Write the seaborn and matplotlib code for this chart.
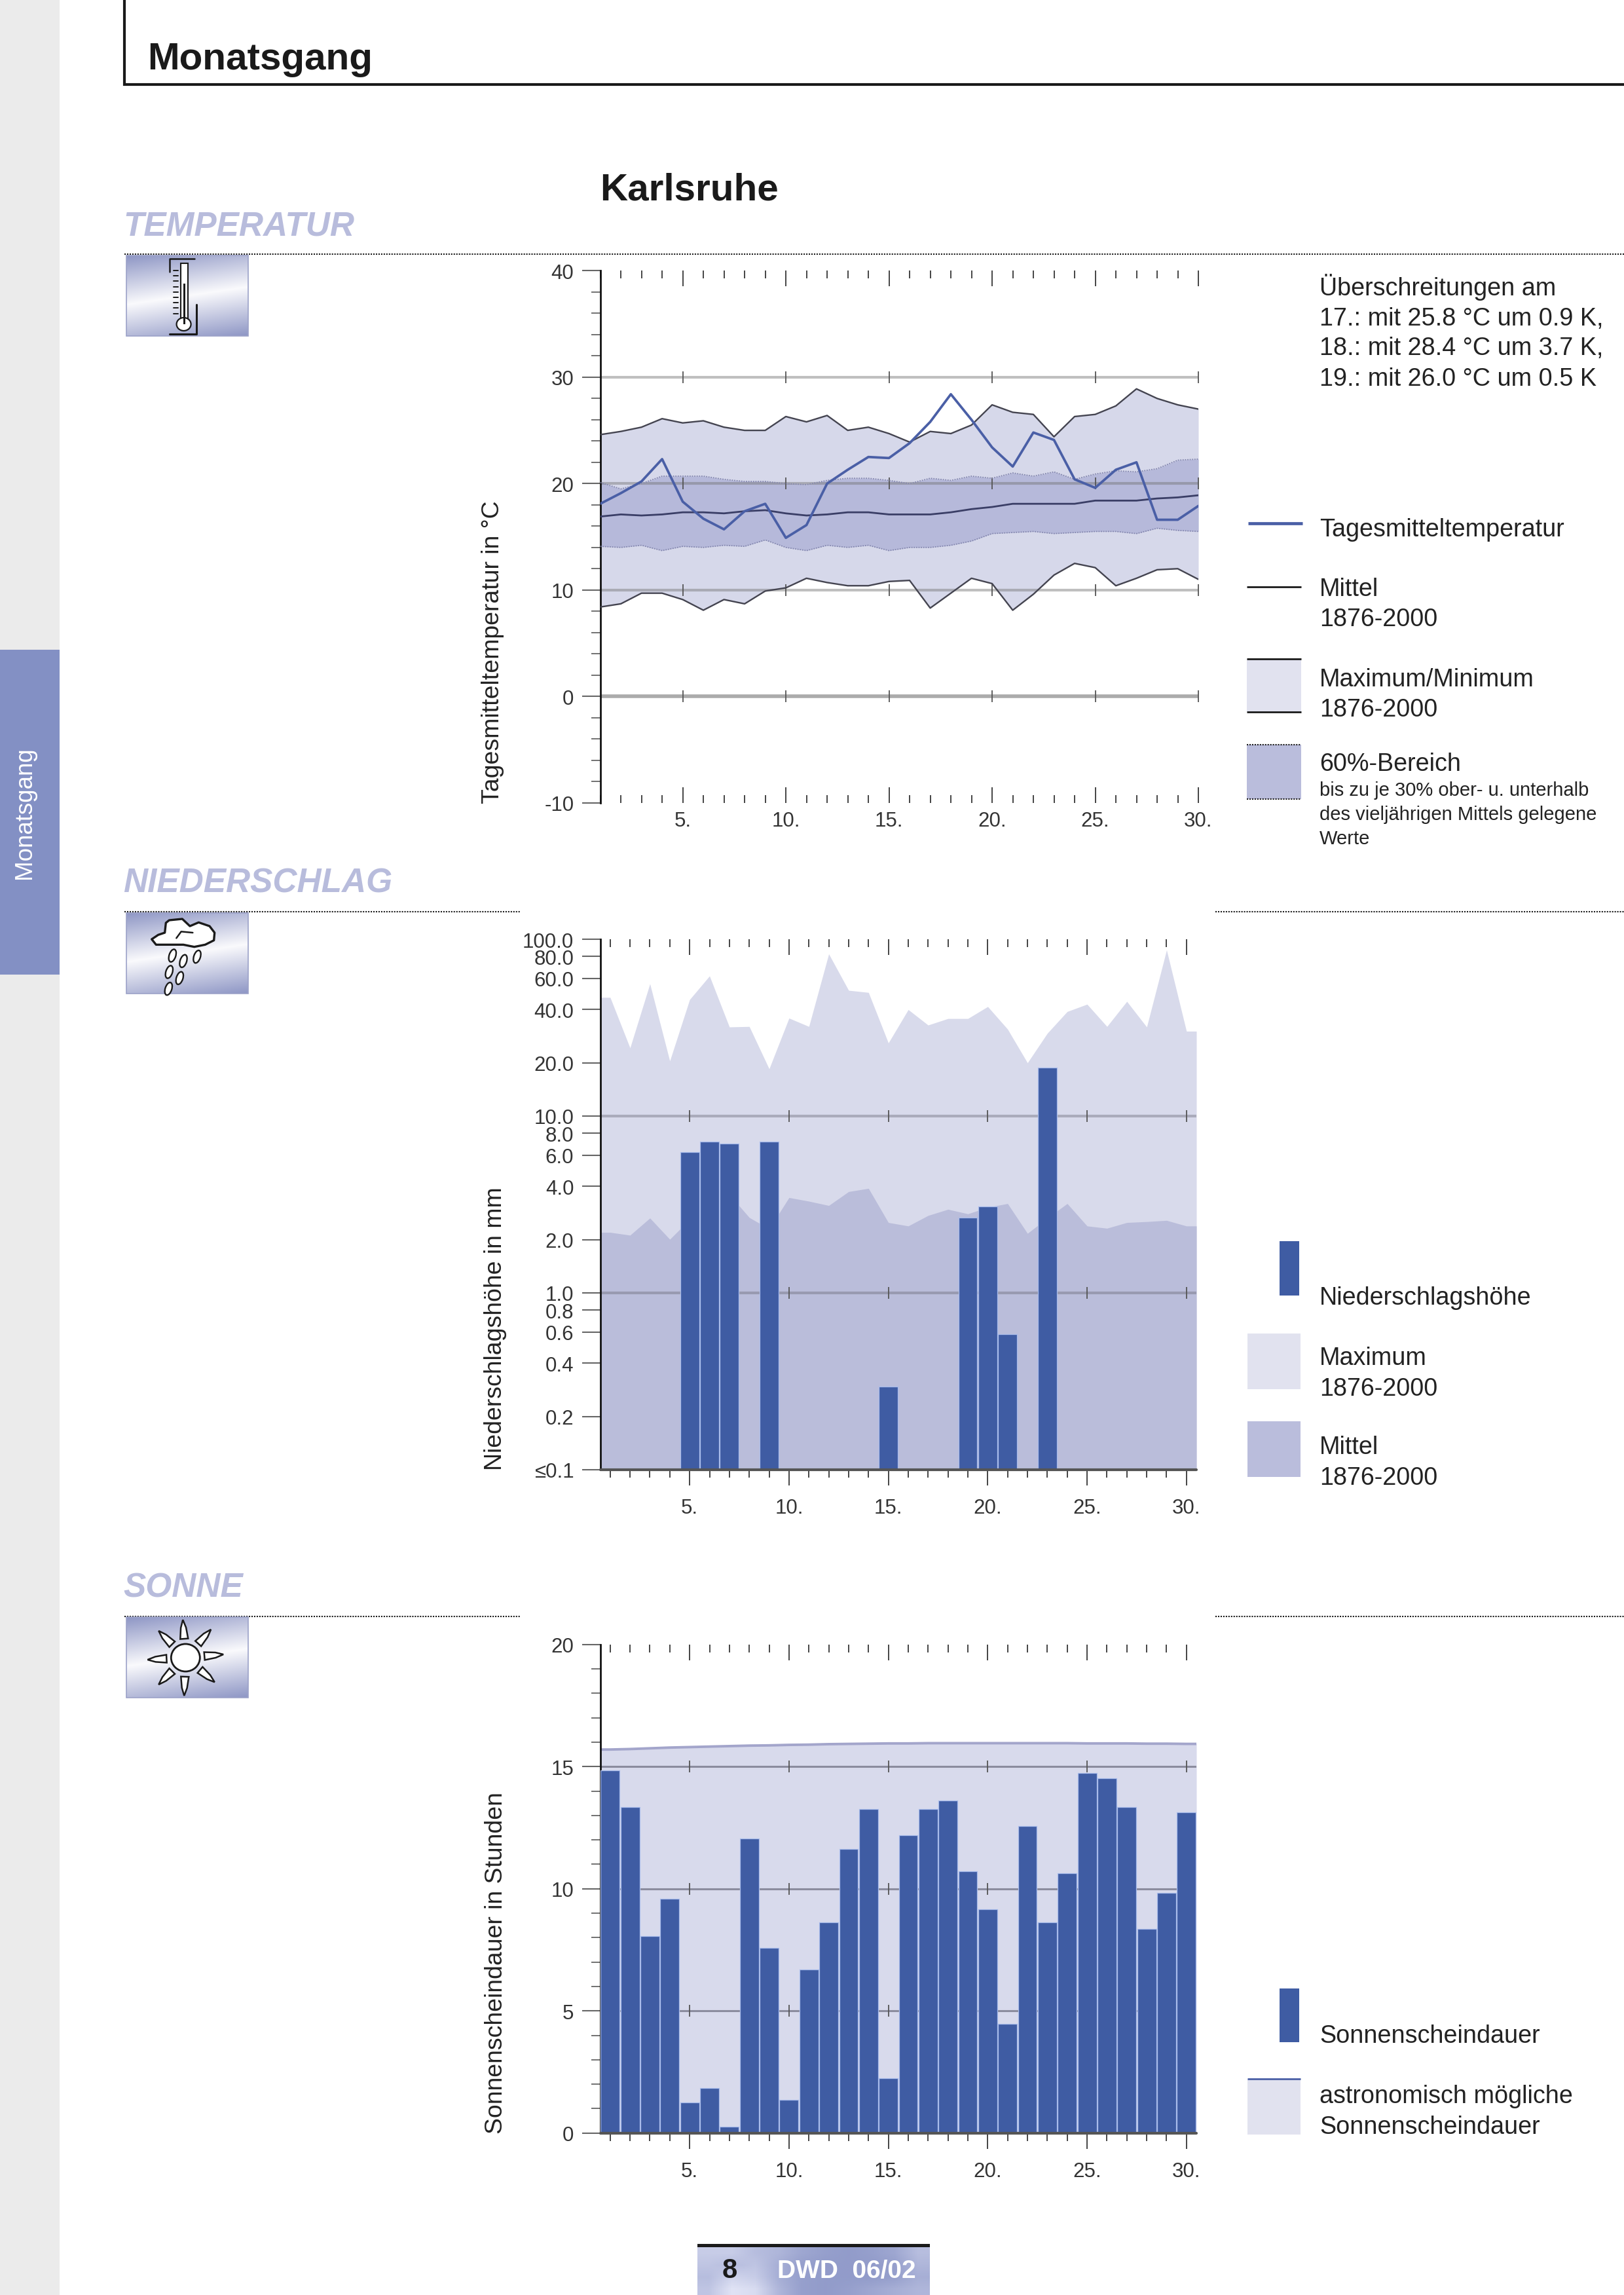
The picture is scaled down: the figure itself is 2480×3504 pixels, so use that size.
import numpy as np
import matplotlib
matplotlib.use('Agg')
import matplotlib.pyplot as plt
from matplotlib.patches import Ellipse, Polygon, Rectangle
from matplotlib.ticker import FixedLocator, NullFormatter, NullLocator
import seaborn as sns

sns.set_theme(style='white')
plt.rcParams['font.family'] = ['Liberation Sans', 'DejaVu Sans']
plt.rcParams['axes.unicode_minus'] = False

W, H = 2480, 3505

DARK_BAND = '#D6D8EA'
MID_BAND = '#B6B9DA'
LEG_LIGHT = '#E1E2EF'
LEG_MID = '#BABDDC'
BAR_BLUE = '#3F5CA3'
LINE_BLUE = '#4A5FA6'
HEAD_BLUE = '#B8BCDC'
TICK_COL = '#444444'

tage = list(range(1, 31))

# Temperatur
tagesmittel = [18.1, 19.1, 20.2, 22.3, 18.3, 16.7, 15.7, 17.4, 18.1, 14.9, 16.1, 20.0, 21.3, 22.5, 22.4,
               23.8, 25.8, 28.4, 26.0, 23.4, 21.6, 24.8, 24.1, 20.4, 19.6, 21.3, 22.0, 16.6, 16.6, 17.9]
temp_max = [24.6, 24.9, 25.3, 26.1, 25.7, 25.9, 25.3, 25.0, 25.0, 26.3, 25.8, 26.4, 25.0, 25.3, 24.7,
            23.9, 24.9, 24.7, 25.5, 27.4, 26.7, 26.5, 24.4, 26.3, 26.5, 27.3, 28.9, 28.0, 27.4, 27.0]
temp_min = [8.4, 8.7, 9.7, 9.7, 9.1, 8.1, 9.1, 8.7, 9.9, 10.2, 11.1, 10.7, 10.4, 10.4, 10.8,
            10.9, 8.3, 9.7, 11.1, 10.6, 8.1, 9.6, 11.4, 12.5, 12.1, 10.4, 11.1, 11.9, 12.0, 11.0]
temp_mittel = [16.9, 17.1, 17.0, 17.1, 17.3, 17.3, 17.2, 17.4, 17.5, 17.2, 17.0, 17.1, 17.3, 17.3, 17.1,
               17.1, 17.1, 17.3, 17.6, 17.8, 18.1, 18.1, 18.1, 18.1, 18.4, 18.4, 18.4, 18.6, 18.7, 18.9]
temp_o60 = [20.1, 19.5, 20.0, 20.7, 20.7, 20.7, 20.4, 20.2, 20.2, 20.0, 19.9, 20.3, 20.5, 20.5, 20.3,
            20.0, 20.5, 20.3, 20.7, 20.5, 21.0, 20.7, 21.1, 20.4, 20.9, 21.2, 21.1, 21.4, 22.2, 22.3]
temp_u60 = [14.1, 14.0, 14.2, 13.7, 14.1, 14.0, 14.2, 14.1, 14.7, 14.0, 13.7, 14.2, 14.0, 14.2, 13.7,
            14.0, 14.0, 14.2, 14.6, 15.3, 15.4, 15.5, 15.3, 15.4, 15.5, 15.5, 15.3, 15.8, 15.6, 15.5]

# Niederschlag
regen_max = [46.9, 24.3, 56.0, 20.5, 45.6, 62.0, 31.9, 32.1, 18.5, 35.8, 32.1, 82.6, 51.4, 50.0, 25.9,
             40.0, 32.7, 35.6, 35.6, 41.6, 31.0, 20.0, 29.4, 39.0, 42.9, 32.1, 44.5, 31.9, 87.0, 30.2]
regen_mittel = [2.2, 2.12, 2.65, 2.01, 2.6, 3.2, 3.6, 2.67, 2.3, 3.46, 3.3, 3.12, 3.74, 3.9, 2.5,
                2.39, 2.74, 2.97, 2.8, 3.05, 3.2, 2.17, 2.65, 3.2, 2.39, 2.32, 2.5, 2.53, 2.57, 2.39]
regen_tage = [5, 6, 7, 9, 15, 19, 20, 21, 23]
regen_hoehe = [6.27, 7.2, 6.98, 7.2, 0.295, 2.67, 3.08, 0.583, 18.8]
regen_ticks = [100, 80, 60, 40, 20, 10, 8, 6, 4, 2, 1, 0.8, 0.6, 0.4, 0.2, 0.1]
regen_labels = ['100.0', '80.0', '60.0', '40.0', '20.0', '10.0', '8.0', '6.0', '4.0', '2.0',
                '1.0', '0.8', '0.6', '0.4', '0.2', '≤0.1']

# Sonne
sonne = [14.84, 13.35, 8.06, 9.6, 1.26, 1.83, 0.26, 12.07, 7.58, 1.36, 6.7, 8.63, 11.63, 13.26, 2.24,
         12.18, 13.26, 13.6, 10.72, 9.16, 4.48, 12.56, 8.63, 10.64, 14.74, 14.52, 13.35, 8.35, 9.83, 13.14]
sonne_astro = [15.7, 15.72, 15.75, 15.78, 15.8, 15.82, 15.84, 15.86, 15.87, 15.89, 15.9, 15.92, 15.93, 15.94, 15.95,
               15.95, 15.96, 15.96, 15.96, 15.96, 15.96, 15.96, 15.96, 15.96, 15.95, 15.95, 15.95, 15.94, 15.94, 15.93]

fuenfer = [5, 10, 15, 20, 25, 30]
fuenfer_labels = ['5.', '10.', '15.', '20.', '25.', '30.']


def px_axes(fig, left, top, right, bottom):
    ax = fig.add_axes([left / W, 1 - bottom / H, (right - left) / W, (bottom - top) / H])
    ax.patch.set_alpha(0)
    return ax


def style_axes(ax, x_dir, pad):
    sns.despine(ax=ax, top=True, right=True, bottom=True, left=False)
    ax.spines['left'].set_color('#111111')
    ax.spines['left'].set_linewidth(2.0)
    ax.xaxis.set_major_locator(FixedLocator(fuenfer))
    ax.xaxis.set_major_formatter(plt.FixedFormatter(fuenfer_labels))
    ax.xaxis.set_minor_locator(FixedLocator(tage))
    ax.xaxis.set_minor_formatter(NullFormatter())
    ax.tick_params(axis='x', which='major', direction=x_dir, bottom=True, length=17, width=1.4,
                   color=TICK_COL, labelsize=22.5, labelcolor='#333333', pad=pad)
    ax.tick_params(axis='x', which='minor', direction=x_dir, bottom=True, length=8.5, width=1.4, color=TICK_COL)
    ax.tick_params(axis='y', which='major', left=True, length=20, width=1.5, color='#666666',
                   labelsize=22.5, labelcolor='#333333', pad=9)
    ax.tick_params(axis='y', which='minor', left=True, length=10, width=1.3, color='#666666')
    # Skala oben, zeigt nach innen
    top_ax = ax.secondary_xaxis('top')
    top_ax.spines['top'].set_visible(False)
    top_ax.xaxis.set_major_locator(FixedLocator(fuenfer))
    top_ax.xaxis.set_minor_locator(FixedLocator(tage))
    top_ax.xaxis.set_major_formatter(NullFormatter())
    top_ax.xaxis.set_minor_formatter(NullFormatter())
    top_ax.tick_params(axis='x', which='major', direction='in', top=True, length=17, width=1.4, color=TICK_COL)
    top_ax.tick_params(axis='x', which='minor', direction='in', top=True, length=8.5, width=1.4, color=TICK_COL)


def grid_marks(ax, werte, col, lw=3.0):
    for w in werte:
        ax.axhline(w, color=col, lw=lw, zorder=2)
        ax.plot(fuenfer, [w] * 6, ls='none', marker='|', ms=13, mew=1.3, color='#555555', zorder=2.5)


def edge(vals):
    return [0.5] + tage + [30.5], [vals[0]] + list(vals) + [vals[-1]]


def plot_temperatur(fig):
    ax = px_axes(fig, 916.6, 414.4, 1830, 1226.7)
    ax.fill_between(tage, temp_min, temp_max, color=DARK_BAND, lw=0, zorder=1)
    ax.fill_between(tage, temp_u60, temp_o60, color=MID_BAND, lw=0, zorder=1.1)
    grid_marks(ax, [30, 20, 10], (0.45, 0.45, 0.45, 0.45))
    grid_marks(ax, [0], (0.45, 0.45, 0.45, 0.6), lw=4.0)
    for werte in [temp_max, temp_min]:
        sns.lineplot(x=tage, y=werte, color='#444450', lw=1.7, ax=ax, zorder=3)
    for werte in [temp_o60, temp_u60]:
        sns.lineplot(x=tage, y=werte, color='#8487AE', lw=1.3, ls=(0, (1, 1)), ax=ax, zorder=3)
    sns.lineplot(x=tage, y=temp_mittel, color='#3A3E66', lw=2.0, ax=ax, zorder=3.2)
    sns.lineplot(x=tage, y=tagesmittel, color=LINE_BLUE, lw=2.7, ax=ax, zorder=4)
    ax.set_xlim(1, 30)
    ax.set_ylim(-10, 40)
    ax.yaxis.set_major_locator(FixedLocator([-10, 0, 10, 20, 30, 40]))
    ax.yaxis.set_minor_locator(FixedLocator(np.arange(-10, 41, 2)))
    style_axes(ax, 'in', 9)
    ax.set_ylabel('Tagesmitteltemperatur in °C', fontsize=26.9, color='#222222', loc='bottom')
    ax.yaxis.set_label_coords(-0.160, 0)


def plot_niederschlag(fig):
    ax = px_axes(fig, 916.6, 1435, 1827, 2245)
    ax.set_yscale('log')
    x, y = edge(regen_max)
    ax.fill_between(x, 0.1, y, color='#D8DAEB', lw=0, zorder=1)
    x, y = edge(regen_mittel)
    ax.fill_between(x, 0.1, y, color='#BABDDA', lw=0, zorder=1.1)
    grid_marks(ax, [10, 1], (0.4, 0.4, 0.45, 0.4))
    sns.barplot(x=regen_tage, y=regen_hoehe, native_scale=True, color=BAR_BLUE, saturation=1, width=0.95,
                edgecolor='#A9BCEB', linewidth=0.9, ax=ax, zorder=3)
    ax.axhline(0.1, color='#555555', lw=3, zorder=4, clip_on=False)
    ax.set_xlim(0.5, 30.5)
    ax.set_ylim(0.1, 100)
    ax.yaxis.set_major_locator(FixedLocator(regen_ticks))
    ax.yaxis.set_major_formatter(plt.FixedFormatter(regen_labels))
    ax.yaxis.set_minor_locator(NullLocator())
    style_axes(ax, 'out', 14)
    ax.set_ylabel('Niederschlagshöhe in mm', fontsize=26.9, color='#222222', loc='bottom')
    ax.yaxis.set_label_coords(-0.157, 0)


def plot_sonne(fig):
    ax = px_axes(fig, 916.6, 2511.8, 1827, 3257.7)
    x, y = edge(sonne_astro)
    ax.fill_between(x, 0, y, color='#D8DAEC', lw=0, zorder=1)
    sns.lineplot(x=x, y=y, color='#A3A5CB', lw=2.8, ax=ax, zorder=1.5)
    grid_marks(ax, [15, 10, 5], (0.35, 0.35, 0.42, 0.6), lw=2.2)
    sns.barplot(x=tage, y=sonne, native_scale=True, color=BAR_BLUE, saturation=1, width=0.95,
                edgecolor='#A9BCEB', linewidth=0.9, ax=ax, zorder=3)
    ax.axhline(0, color='#555555', lw=3, zorder=4, clip_on=False)
    ax.set_xlim(0.5, 30.5)
    ax.set_ylim(0, 20)
    ax.yaxis.set_major_locator(FixedLocator([0, 5, 10, 15, 20]))
    ax.yaxis.set_minor_locator(FixedLocator(range(0, 21)))
    style_axes(ax, 'out', 14)
    ax.set_ylabel('Sonnenscheindauer in Stunden', fontsize=26.9, color='#222222', loc='bottom')
    ax.yaxis.set_label_coords(-0.155, 0)


def icon_bg(page, x0, y0, x1, y1):
    yy, xx = np.mgrid[0:1:120j, 0:1:180j]
    t = np.abs((yy - 0.5) + 0.22 * (xx - 0.5)) / 0.6
    t = np.clip(t, 0, 1)[..., None]
    dunkel = np.array([0x90, 0x98, 0xC6]) / 255
    img = (1 - t) * np.array([0.98, 0.98, 0.99]) + t * dunkel
    page.imshow(img, extent=(x0, x1, y1, y0), aspect='auto', zorder=1, interpolation='bilinear')
    page.add_patch(Rectangle((x0, y0), x1 - x0, y1 - y0, fill=False, ec='#9CA2C8', lw=1.2, zorder=2))


def draw_thermo(page):
    page.plot([297, 259, 259], [396, 396, 416], color='k', lw=1.8, zorder=3)
    page.plot([259, 299.5, 299.5], [511, 511, 466], color='k', lw=2.2, zorder=3)
    page.add_patch(Rectangle((275.5, 403), 11.5, 86, fc='white', ec='k', lw=1.5, zorder=3))
    page.add_patch(Ellipse((280.6, 496), 22, 20, fc='white', ec='k', lw=1.6, zorder=3.2))
    page.add_patch(Rectangle((279.5, 434), 3, 62, fc='k', ec='none', zorder=3.3))
    for y in np.arange(414, 480, 8.2):
        page.plot([265, 272], [y, y], color='k', lw=1.4, zorder=3)


def draw_wolke(page):
    z = np.array([(185, 405), (215, 385), (245, 375), (250, 330), (265, 318), (325, 312), (360, 345), (400, 328),
                  (450, 345), (473, 375), (470, 410), (430, 430), (380, 440), (330, 430), (260, 430), (205, 430)])
    page.add_patch(Polygon(np.c_[170 + z[:, 0] / 3, 1300 + z[:, 1] / 3], closed=True, fc='white', ec='k',
                           lw=2.4, joinstyle='round', zorder=3))
    page.plot([170 + 298 / 3, 170 + 320 / 3, 170 + 373 / 3], [1300 + 400 / 3, 1300 + 370 / 3, 1300 + 375 / 3],
              color='k', lw=1.8, zorder=3.2)
    for zx, zy in [(280, 480), (330, 505), (393, 485), (265, 555), (313, 583), (262, 632)]:
        page.add_patch(Ellipse((170 + zx / 3, 1300 + zy / 3), 10, 20, angle=18, fc='white', ec='k', lw=1.7, zorder=3))


def draw_sonne(page):
    cx, cy = 283.3, 2532
    page.add_patch(Ellipse((cx, cy), 44, 42, fc='white', ec='k', lw=2.0, zorder=3))
    for winkel in np.deg2rad([94, 48, 5, -40, -92, -135, 183, 135]):
        d = np.array([np.cos(winkel), -np.sin(winkel)])
        n = np.array([d[1], -d[0]])
        mitte = np.array([cx, cy])
        pts = [mitte + d * 29 + n * 6, mitte + d * 29 - n * 6, mitte + d * 46 - n * 4, mitte + d * 58,
               mitte + d * 46 + n * 4]
        page.add_patch(Polygon(pts, closed=True, fc='white', ec='k', lw=1.8, zorder=3))


def draw_page(fig):
    page = fig.add_axes([0, 0, 1, 1])
    page.set_axis_off()

    # Randleiste
    page.add_patch(Rectangle((0, 0), 91, H, fc='#EBEBEB', ec='none', zorder=0))
    page.add_patch(Rectangle((0, 993), 91, 496, fc='#8390C4', ec='none', zorder=0.5))
    page.text(38, 1241, 'Monatsgang', color='white', fontsize=26.5, rotation=90, ha='center', va='center')

    # Kopf
    page.plot([190, 190, W], [0, 130, 130], color='k', lw=3, solid_joinstyle='miter', zorder=2)
    page.text(225, 106, 'Monatsgang', fontsize=42, fontweight='bold', color='#1A1A1A', va='baseline')
    page.text(916, 306, 'Karlsruhe', fontsize=42, fontweight='bold', color='#1A1A1A', va='baseline')

    # Abschnitte
    for txt, yb, yl, ic in [('TEMPERATUR', 359, 389, 391), ('NIEDERSCHLAG', 1363, 1393, 1395), ('SONNE', 2439, 2469, 2470)]:
        page.text(188, yb, txt, fontsize=37, fontweight='bold', fontstyle='italic', color=HEAD_BLUE,
                  va='baseline')
        if txt == 'TEMPERATUR':
            page.plot([190, W], [yl, yl], color='k', lw=1.5, ls=(0, (1, 0.9)), zorder=2)
        else:
            page.plot([190, 794], [yl, yl], color='k', lw=1.5, ls=(0, (1, 0.9)), zorder=2)
            page.plot([1856, W], [yl, yl], color='k', lw=1.5, ls=(0, (1, 0.9)), zorder=2)
        icon_bg(page, 193, ic, 379, ic + 123)
    draw_thermo(page)
    draw_wolke(page)
    draw_sonne(page)

    # Legende Temperatur
    fs = 27.2
    col = '#222222'
    for txt, y in [('Überschreitungen am', 451), ('17.: mit 25.8 °C um 0.9 K,', 497), ('18.: mit 28.4 °C um 3.7 K,', 542),
                   ('19.: mit 26.0 °C um 0.5 K', 589), ('Tagesmitteltemperatur', 819), ('Mittel', 910),
                   ('1876-2000', 956), ('Maximum/Minimum', 1048), ('1876-2000', 1094), ('60%-Bereich', 1177),
                   ('Niederschlagshöhe', 1992), ('Maximum', 2084), ('1876-2000', 2131), ('Mittel', 2220),
                   ('1876-2000', 2267), ('Sonnenscheindauer', 3119), ('astronomisch mögliche', 3211),
                   ('Sonnenscheindauer', 3258)]:
        page.text(2015, y, txt, fontsize=fs, color=col, va='baseline')
    for txt, y in [('bis zu je 30% ober- u. unterhalb', 1215), ('des vieljährigen Mittels gelegene', 1252), ('Werte', 1289)]:
        page.text(2015, y, txt, fontsize=21, color=col, va='baseline')

    page.plot([1906, 1989], [800, 800], color=LINE_BLUE, lw=3.4, solid_capstyle='butt')
    page.plot([1904, 1987], [897, 897], color='k', lw=2, solid_capstyle='butt')
    page.add_patch(Rectangle((1904, 1007), 83, 81, fc=LEG_LIGHT, ec='none'))
    page.plot([1904, 1987], [1007, 1007], color='k', lw=2, solid_capstyle='butt')
    page.plot([1904, 1987], [1088, 1088], color='k', lw=2, solid_capstyle='butt')
    page.add_patch(Rectangle((1904, 1138), 83, 83, fc=LEG_MID, ec='none'))
    page.plot([1904, 1987], [1138, 1138], color='k', lw=1.5, ls=(0, (1, 0.9)))
    page.plot([1904, 1987], [1221, 1221], color='k', lw=1.5, ls=(0, (1, 0.9)))

    # Legende Niederschlag
    page.add_patch(Rectangle((1954, 1896), 30, 83, fc=BAR_BLUE, ec='none'))
    page.add_patch(Rectangle((1905, 2037), 81, 85, fc=LEG_LIGHT, ec='none'))
    page.add_patch(Rectangle((1905, 2171), 81, 85, fc=LEG_MID, ec='none'))

    # Legende Sonne
    page.add_patch(Rectangle((1954, 3037), 30, 82, fc=BAR_BLUE, ec='none'))
    page.add_patch(Rectangle((1905, 3175), 81, 85, fc=LEG_LIGHT, ec='none'))
    page.plot([1905, 1986], [3175, 3175], color=LINE_BLUE, lw=2, solid_capstyle='butt')

    # Fusszeile
    wolken = np.array([[.7, .7, .5, .4, .2, .1, .05, .1, .2, .5],
                       [.6, .5, .6, .3, .1, .05, .05, .05, .1, .4],
                       [.5, .8, .7, .3, .1, .05, .05, .05, .1, .3],
                       [.6, 1., .9, .4, .1, .05, .1, .2, .3, .4]])[..., None]
    img = (1 - wolken) * (np.array([0x8E, 0x98, 0xC8]) / 255) + wolken * (np.array([0xE0, 0xE3, 0xF5]) / 255)
    page.imshow(img, extent=(1065, 1420, H, 3432), aspect='auto', interpolation='bilinear', zorder=1)
    page.add_patch(Rectangle((1065, 3427), 355, 5, fc='k', ec='none', zorder=2))
    page.text(1114, 3478, '8', fontsize=30, fontweight='bold', color='#1A1A1A', ha='center', va='baseline', zorder=3)
    page.text(1187, 3478, 'DWD  06/02', fontsize=28, fontweight='bold', color='white', va='baseline', zorder=3)

    page.set_xlim(0, W)
    page.set_ylim(H, 0)


fig = plt.figure(figsize=(W / 100, H / 100), dpi=100, facecolor='white')
draw_page(fig)
plot_temperatur(fig)
plot_niederschlag(fig)
plot_sonne(fig)
fig.savefig('out.png', dpi=100)
plt.close(fig)
